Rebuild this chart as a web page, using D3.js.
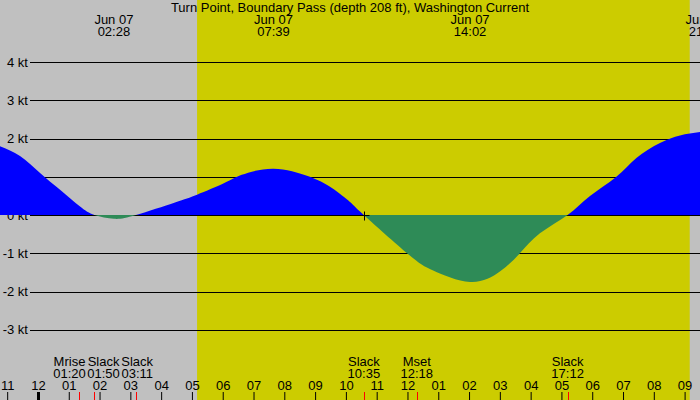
<!DOCTYPE html>
<html>
<head>
<meta charset="utf-8">
<script src="https://cdn.jsdelivr.net/npm/d3@7"></script>
<style>
  html, body { margin: 0; padding: 0; background: #c0c0c0; }
  svg { display: block; font-family: "Liberation Sans", Arial, sans-serif; font-size: 13px; }
</style>
</head>
<body>
<svg id="chart" width="700" height="400"></svg>
<script>
// ---- data ----
const title = "Turn Point, Boundary Pass (depth 208 ft), Washington Current";
const domainTimes = ["2024-06-06T22:46", "2024-06-07T21:30"];
const daylight = ["2024-06-07T05:10", "2024-06-07T21:10"];
const curveTimes = [
  "2024-06-06T22:46", "2024-06-06T23:25", "2024-06-07T00:04", "2024-06-07T00:43",
  "2024-06-07T01:22", "2024-06-07T01:50", "2024-06-07T02:28", "2024-06-07T03:11",
  "2024-06-07T04:27", "2024-06-07T05:10", "2024-06-07T06:04", "2024-06-07T06:37",
  "2024-06-07T07:39", "2024-06-07T08:47", "2024-06-07T09:32", "2024-06-07T10:08",
  "2024-06-07T10:35", "2024-06-07T12:01", "2024-06-07T12:50", "2024-06-07T14:02",
  "2024-06-07T15:00", "2024-06-07T15:39", "2024-06-07T16:18",
  "2024-06-07T17:12", "2024-06-07T17:55", "2024-06-07T18:47", "2024-06-07T19:26",
  "2024-06-07T20:12", "2024-06-07T20:51", "2024-06-07T21:30"
];
const curveSpeeds = [
  1.80, 1.54, 1.10, 0.66,
  0.22, 0.00, -0.10, 0.00,
  0.33, 0.53, 0.84, 1.05,
  1.21, 1.01, 0.71, 0.34,
  0.00, -1.02, -1.45, -1.75,
  -1.48, -1.00, -0.48,
  0.00, 0.49, 1.00, 1.49,
  1.88, 2.08, 2.17
];
const peakTimes = ["2024-06-07T02:28", "2024-06-07T07:39", "2024-06-07T14:02", "2024-06-07T21:40"];
const peakDates = ["Jun 07", "Jun 07", "Jun 07", "Jun 07"];
const peakLabels = ["02:28", "07:39", "14:02", "21:40"];
const eventNames = ["Mrise", "Slack", "Slack", "Slack", "Mset", "Slack"];
const eventTimes = ["2024-06-07T01:20", "2024-06-07T01:50", "2024-06-07T03:11", "2024-06-07T10:35", "2024-06-07T12:18", "2024-06-07T17:12"];
const eventLabels = ["01:20", "01:50", "03:11", "10:35", "12:18", "17:12"];
const markerTime = "2024-06-07T10:35";
const yTicks = [-3, -2, -1, 0, 1, 2, 3, 4];

// ---- drawing ----
const W = 700, H = 400;
const parse = d3.timeParse("%Y-%m-%dT%H:%M");
const svg = d3.select("#chart");

const x = d3.scaleTime().domain(domainTimes.map(parse)).range([0, W]);
const y = d3.scaleLinear().domain([0, 4]).range([215, 62]);

// background
svg.append("rect").attr("width", W).attr("height", H).attr("fill", "#c0c0c0");
svg.append("rect")
  .attr("x", x(parse(daylight[0]))).attr("y", 0)
  .attr("width", x(parse(daylight[1])) - x(parse(daylight[0])))
  .attr("height", H).attr("fill", "#cccc00");

// y gridlines + labels
const yAxis = d3.axisLeft(y).tickValues(yTicks).tickSize(-(W - 30)).tickPadding(2)
  .tickFormat(d => d + " kt");
const gy = svg.append("g").attr("transform", "translate(30,0)").call(yAxis);
gy.select(".domain").remove();
gy.selectAll("line").attr("stroke", "#000").attr("shape-rendering", "crispEdges");
gy.selectAll("text").attr("fill", "#000").attr("font-size", 13)
  .attr("font-family", '"Liberation Sans", Arial, sans-serif');

// current area
const pts = curveTimes.map((t, i) => ({ t: parse(t), v: curveSpeeds[i] }));
const area = d3.area().x(d => x(d.t)).y0(y(0)).y1(d => y(d.v)).curve(d3.curveNatural);
const defs = svg.append("defs");
defs.append("clipPath").attr("id", "above").append("rect")
  .attr("x", 0).attr("y", 0).attr("width", W).attr("height", y(0));
defs.append("clipPath").attr("id", "below").append("rect")
  .attr("x", 0).attr("y", y(0)).attr("width", W).attr("height", H - y(0));
svg.append("path").datum(pts).attr("d", area).attr("fill", "#0000ff").attr("clip-path", "url(#above)");
svg.append("path").datum(pts).attr("d", area).attr("fill", "#2e8b57").attr("clip-path", "url(#below)");

// slack marker
const mx = Math.round(x(parse(markerTime))) + 0.5, my = y(0) + 0.5;
svg.append("path").attr("d", `M${mx - 4},${my}H${mx + 5}M${mx},${my - 4}V${my + 5}`)
  .attr("stroke", "#000").attr("stroke-width", 1).attr("fill", "none");

// title
svg.append("text").attr("x", W / 2).attr("y", 12).attr("text-anchor", "middle")
  .attr("fill", "#000").text(title);

// peak labels on top
peakTimes.forEach((t, i) => {
  const px = x(parse(t));
  svg.append("text").attr("x", px).attr("y", 24).attr("text-anchor", "middle").text(peakDates[i]);
  svg.append("text").attr("x", px).attr("y", 36).attr("text-anchor", "middle").text(peakLabels[i]);
});

// hour axis at bottom
const xAxis = d3.axisTop(x).ticks(d3.timeHour.every(1)).tickFormat(d3.timeFormat("%I"))
  .tickSize(8).tickPadding(2);
const gx = svg.append("g").attr("transform", `translate(0,${H})`).call(xAxis);
gx.select(".domain").remove();
gx.selectAll("line").attr("stroke", "#000")
  .attr("stroke-width", d => d.getHours() === 0 ? 3 : 1);
gx.selectAll("text").attr("fill", "#000").attr("font-size", 13)
  .attr("font-family", '"Liberation Sans", Arial, sans-serif');

// event ticks
eventTimes.forEach(t => {
  const ex = Math.round(x(parse(t))) + 0.5;
  svg.append("line").attr("x1", ex).attr("x2", ex).attr("y1", H - 8).attr("y2", H)
    .attr("stroke", "#ff0000").attr("stroke-width", 1);
});

// event labels with overlap resolution
const evG = svg.append("g");
const evs = eventTimes.map((t, i) => {
  const g = evG.append("g");
  const t1 = g.append("text").attr("y", 366).attr("text-anchor", "middle").text(eventNames[i]);
  const t2 = g.append("text").attr("y", 378).attr("text-anchor", "middle").text(eventLabels[i]);
  const w = Math.max(t1.node().getComputedTextLength(), t2.node().getComputedTextLength());
  return { g, cx: x(parse(t)), w };
});
const gap = 1.5;
let clusters = evs.map(e => ({ items: [e], center: e.cx }));
function layout(c) {
  const total = d3.sum(c.items, e => e.w) + gap * (c.items.length - 1);
  c.left = c.center - total / 2; c.right = c.left + total;
}
clusters.forEach(layout);
let changed = true;
while (changed) {
  changed = false;
  for (let i = 0; i < clusters.length - 1; i++) {
    if (clusters[i].right + gap > clusters[i + 1].left) {
      const items = clusters[i].items.concat(clusters[i + 1].items);
      const c = { items, center: d3.mean(items, e => e.cx) };
      layout(c);
      clusters.splice(i, 2, c);
      changed = true;
      break;
    }
  }
}
clusters.forEach(c => {
  let pos = c.left;
  c.items.forEach(e => {
    e.g.attr("transform", `translate(${pos + e.w / 2},0)`);
    pos += e.w + gap;
  });
});
</script>
</body>
</html>
